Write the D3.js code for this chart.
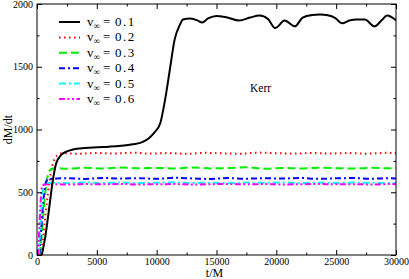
<html>
<head>
<script src="https://cdn.jsdelivr.net/npm/d3@7/dist/d3.min.js"></script>
<style>
  body { margin: 0; background: #fff; }
  text { font-family: "Liberation Serif", "DejaVu Serif", serif; }
</style>
</head>
<body>
<svg width="409" height="279"></svg>
<script>
// time samples and dM/dt values for each v_inf run
var t01 = [400, 700, 1000, 1300, 1600, 2000, 2500, 3000, 4000, 5000, 6000, 7000, 8000, 8800, 9400, 9800, 10300, 10700, 11100, 11500, 11950, 12200, 12800, 13400, 13800, 14300, 15000, 15800, 16900, 17800, 18600, 19300, 19900, 20700, 21550, 22200, 23000, 23650, 24300, 24900, 25500, 26100, 26700, 27400, 28200, 28800, 29250, 30000];
var v01 = [0, 150, 360, 580, 730, 795, 825, 840, 852, 858, 863, 870, 882, 900, 935, 975, 1050, 1236, 1476, 1716, 1836, 1876, 1884, 1870, 1852, 1885, 1905, 1895, 1868, 1892, 1908, 1880, 1808, 1868, 1822, 1892, 1912, 1916, 1910, 1890, 1846, 1868, 1876, 1876, 1822, 1870, 1908, 1870];

var t02 = [350, 600, 900, 1200, 1500, 1800, 2200, 3500, 5000, 6500, 8000, 9500, 11000, 12500, 14000, 15500, 17000, 18500, 20000, 21500, 23000, 24500, 26000, 27500, 29000, 30000];
var v02 = [0, 220, 480, 680, 770, 800, 812, 806, 813, 809, 815, 808, 812, 806, 814, 810, 807, 816, 811, 808, 813, 809, 812, 807, 814, 811];

var t03 = [250, 450, 700, 950, 1200, 1600, 2500, 4000, 5500, 7000, 8500, 10000, 11500, 13000, 14500, 16000, 17500, 19000, 20500, 22000, 23500, 25000, 26500, 28000, 29500, 30000];
var v03 = [0, 240, 500, 650, 685, 692, 688, 695, 690, 697, 691, 694, 689, 698, 690, 693, 700, 688, 694, 690, 696, 692, 689, 695, 691, 693];

var t04 = [200, 380, 580, 780, 1000, 1500, 2500, 4000, 5500, 7000, 8500, 10000, 11500, 13000, 14500, 16000, 17500, 19000, 20500, 22000, 23500, 25000, 26500, 28000, 29500, 30000];
var v04 = [0, 240, 480, 590, 605, 608, 612, 606, 614, 609, 612, 607, 615, 610, 606, 613, 608, 612, 609, 614, 607, 611, 613, 608, 612, 610];

var t05 = [150, 300, 450, 600, 900, 1500, 2500, 4000, 5500, 7000, 8500, 10000, 11500, 13000, 14500, 16000, 17500, 19000, 20500, 22000, 23500, 25000, 26500, 28000, 29500, 30000];
var v05 = [0, 250, 480, 565, 574, 576, 572, 578, 574, 577, 573, 576, 579, 574, 576, 572, 577, 575, 578, 573, 576, 574, 577, 575, 573, 576];

var t06 = [100, 220, 340, 450, 700, 1500, 2500, 4000, 5500, 7000, 8500, 10000, 11500, 13000, 14500, 16000, 17500, 19000, 20500, 22000, 23500, 25000, 26500, 28000, 29500, 30000];
var v06 = [0, 260, 480, 555, 562, 564, 561, 565, 563, 566, 562, 564, 565, 562, 564, 566, 563, 565, 562, 564, 566, 563, 564, 562, 565, 564];

var labels = ["0.1", "0.2", "0.3", "0.4", "0.5", "0.6"];
var xTicks = [0, 5000, 10000, 15000, 20000, 25000, 30000];
var yTicks = [0, 500, 1000, 1500, 2000];

var series = [
  { t: t02, v: v02, color: "#ff0000", dash: "1.5,3.5" },
  { t: t03, v: v03, color: "#00ee00", dash: "8,4" },
  { t: t04, v: v04, color: "#0000ff", dash: "6,3,2,3" },
  { t: t05, v: v05, color: "#00ffff", dash: "7,3,2,3" },
  { t: t06, v: v06, color: "#ff00ff", dash: "6,2.5,2,2.5,2,2.5" },
  { t: t01, v: v01, color: "#000000", dash: null }
];
var legendOrder = [5, 0, 1, 2, 3, 4];

var svg = d3.select("svg");
var pLeft = 37, pRight = 396, pTop = 4, pBottom = 255;

var x = d3.scaleLinear().domain([0, 30000]).range([pLeft, pRight]);
var y = d3.scaleLinear().domain([0, 2000]).range([pBottom, pTop]);

svg.append("clipPath").attr("id", "clip")
  .append("rect").attr("x", pLeft).attr("y", pTop)
  .attr("width", pRight - pLeft).attr("height", pBottom - pTop);

var line = d3.line()
  .x(function(d) { return x(d[0]); })
  .y(function(d) { return y(d[1]); })
  .curve(d3.curveMonotoneX);

var g = svg.append("g").attr("clip-path", "url(#clip)");
series.forEach(function(s) {
  var pts = s.t.map(function(t, i) { return [t, s.v[i]]; });
  g.append("path")
    .attr("d", line(pts))
    .attr("fill", "none")
    .attr("stroke", s.color)
    .attr("stroke-width", 2)
    .attr("stroke-dasharray", s.dash);
});

// axes, ticks pointing inwards on all sides
var minorX = d3.range(2500, 30000, 5000);
var minorY = d3.range(250, 2000, 500);

function axisStyle(sel) {
  sel.select(".domain").remove();
  sel.selectAll("line").attr("stroke", "#000");
  sel.selectAll("text").attr("font-size", "10px").attr("fill", "#000")
    .style("font-family", '"Liberation Serif", serif');
}

svg.append("g").attr("transform", "translate(0," + pBottom + ")")
  .call(d3.axisBottom(x).tickValues(xTicks).tickSize(-5).tickPadding(3).tickFormat(d3.format("d")))
  .call(axisStyle);
svg.append("g").attr("transform", "translate(0," + pBottom + ")")
  .call(d3.axisBottom(x).tickValues(minorX).tickSize(-2.5).tickFormat(""))
  .call(axisStyle);
svg.append("g").attr("transform", "translate(0," + pTop + ")")
  .call(d3.axisTop(x).tickValues(xTicks).tickSize(-5).tickFormat(""))
  .call(axisStyle);
svg.append("g").attr("transform", "translate(0," + pTop + ")")
  .call(d3.axisTop(x).tickValues(minorX).tickSize(-2.5).tickFormat(""))
  .call(axisStyle);

svg.append("g").attr("transform", "translate(" + pLeft + ",0)")
  .call(d3.axisLeft(y).tickValues(yTicks).tickSize(-5).tickPadding(4).tickFormat(d3.format("d")))
  .call(axisStyle);
svg.append("g").attr("transform", "translate(" + pLeft + ",0)")
  .call(d3.axisLeft(y).tickValues(minorY).tickSize(-2.5).tickFormat(""))
  .call(axisStyle);
svg.append("g").attr("transform", "translate(" + pRight + ",0)")
  .call(d3.axisRight(y).tickValues(yTicks).tickSize(-5).tickFormat(""))
  .call(axisStyle);
svg.append("g").attr("transform", "translate(" + pRight + ",0)")
  .call(d3.axisRight(y).tickValues(minorY).tickSize(-2.5).tickFormat(""))
  .call(axisStyle);

svg.append("rect")
  .attr("x", pLeft).attr("y", pTop)
  .attr("width", pRight - pLeft).attr("height", pBottom - pTop)
  .attr("fill", "none").attr("stroke", "#000").attr("stroke-width", 1);

// axis titles
svg.append("text")
  .attr("x", (pLeft + pRight) / 2 - 2).attr("y", 277)
  .attr("text-anchor", "middle").attr("font-size", "12px")
  .text("t/M");
svg.append("text")
  .attr("transform", "translate(12," + ((pTop + pBottom) / 2) + ") rotate(-90)")
  .attr("text-anchor", "middle").attr("font-size", "12px")
  .text("dM/dt");

svg.append("text")
  .attr("x", 250).attr("y", 92)
  .attr("font-size", "11.5px")
  .text("Kerr");

// legend
var legend = svg.append("g");
legendOrder.forEach(function(si, i) {
  var s = series[si];
  var ly = 22 + i * 15.4;
  legend.append("line")
    .attr("x1", 59).attr("x2", 80).attr("y1", ly).attr("y2", ly)
    .attr("stroke", s.color).attr("stroke-width", 2)
    .attr("stroke-dasharray", s.dash);
  var tx = legend.append("text").attr("y", ly + 4).attr("font-size", "13px");
  tx.append("tspan").attr("x", 87).text("v");
  tx.append("tspan").attr("font-size", "9px").attr("dy", 3).text("\u221e");
  tx.append("tspan").attr("x", 103).attr("dy", -3).text("=");
  tx.append("tspan").attr("x", 115).attr("letter-spacing", "1.5px").text(labels[i]);
});
</script>
</body>
</html>
